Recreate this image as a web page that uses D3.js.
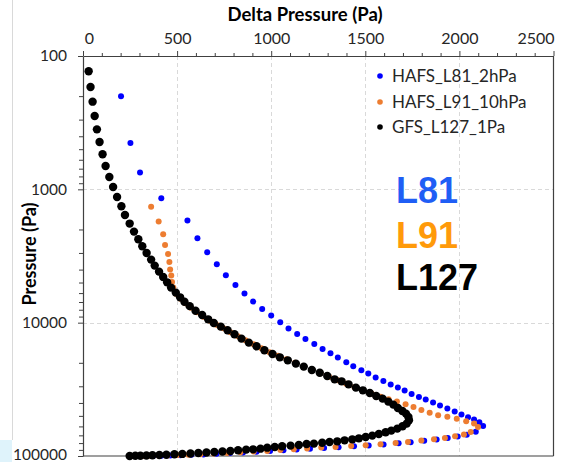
<!DOCTYPE html>
<html>
<head>
<meta charset="utf-8">
<script src="https://cdn.jsdelivr.net/npm/d3@7"></script>
<style>
  html, body { margin: 0; padding: 0; background: #fff; }
  svg { display: block; }
</style>
</head>
<body>
<div id="chart"></div>
<script>
// ---------------- DATA ----------------
const seriesNames = ["HAFS_L81_2hPa", "HAFS_L91_10hPa", "GFS_L127_1Pa"];
const xTicks = [0, 500, 1000, 1500, 2000, 2500];
const yTicks = [100, 1000, 10000, 100000];
const bigLabels = ["L81", "L91", "L127"];

// HAFS_L81_2hPa : [delta pressure (Pa), pressure (Pa)]
const l81 = [
  [202, 200], [252, 449], [303, 749], [416, 1167], [555, 1714], [608, 2328],
  [660, 2969], [711, 3650], [759, 4416], [810, 5219], [858, 6053], [904, 6950],
  [952, 7898], [1000, 8851], [1048, 9931], [1092, 11076], [1138, 12162],
  [1182, 13260], [1229, 14454], [1273, 15757], [1315, 16982], [1354, 18281],
  [1399, 19830], [1436, 21247], [1479, 22770], [1516, 24100], [1555, 25820],
  [1596, 27380], [1635, 29140], [1673, 30690], [1709, 32310], [1746, 34280],
  [1785, 36110], [1821, 37760], [1860, 39780], [1897, 41880], [1936, 44120],
  [1975, 46450], [2011, 48940], [2046, 51270], [2078, 53350], [2106, 55890],
  [2126, 59570],
  [2087, 65850], [2039, 69340], [1991, 71550], [1938, 73440], [1879, 75210],
  [1813, 76910], [1741, 78800], [1677, 80170], [1597, 81990], [1518, 83420],
  [1440, 84580], [1358, 85900], [1281, 86950], [1206, 88310], [1135, 89390],
  [1065, 90480], [994, 91900], [922, 93030], [850, 94140], [781, 95120],
  [709, 96290], [640, 97270], [576, 97950], [518, 98630], [464, 99150],
  [416, 99490], [374, 99660], [337, 99820], [305, 99900], [278, 100000]
];

// HAFS_L91_10hPa
const l91 = [
  [362, 1352], [402, 1746], [426, 2175], [436, 2616], [452, 3055], [459, 3508],
  [463, 3991], [469, 4436], [473, 4955], [480, 5458],
  [494, 6076], [518, 6622], [544, 7157], [573, 7737], [605, 8363], [640, 9036],
  [674, 9683], [709, 10375], [746, 11023], [783, 11812], [823, 12657],
  [863, 13562], [906, 14532], [948, 15572], [991, 16686], [1036, 17731],
  [1081, 18833], [1127, 20004], [1172, 21247], [1217, 22569], [1262, 23976],
  [1307, 25466], [1353, 27050], [1398, 28730], [1443, 30520], [1488, 32420],
  [1534, 34170], [1581, 35990], [1624, 37570],
  [1668, 39080], [1714, 40970], [1756, 42980], [1798, 45270], [1842, 47420],
  [1887, 49510], [1936, 50820], [1986, 52600], [2036, 54920], [2078, 57150],
  [2099, 60620],
  [2060, 66070], [2024, 69100], [1977, 71170], [1923, 73280], [1865, 74950],
  [1798, 76640], [1727, 78520], [1661, 79890], [1581, 81710], [1502, 83130],
  [1425, 84140], [1342, 85620], [1266, 86500], [1191, 88020], [1120, 89100],
  [1049, 90160], [979, 91750], [907, 92680], [837, 93820], [766, 94950],
  [695, 95940], [624, 97120], [560, 97790], [502, 98470], [448, 98980],
  [401, 99320], [358, 99660], [321, 99820], [289, 99950], [262, 100000]
];

// GFS_L127_1Pa (points below 100 Pa are off the chart)
const l127 = [
  [30, 130], [40, 171], [51, 220], [62, 282], [74, 355], [88, 442], [104, 546],
  [120, 668], [140, 808], [160, 961], [181, 1141], [204, 1340], [223, 1558],
  [248, 1807], [271, 2075], [294, 2371], [315, 2675], [338, 3002], [362, 3365],
  [381, 3733], [404, 4141], [426, 4545], [447, 4984], [468, 5458], [493, 5951],
  [516, 6457], [539, 6975], [567, 7516], [598, 8147], [633, 8760], [665, 9441],
  [695, 10058], [732, 10703], [768, 11402], [805, 12218], [842, 13167],
  [881, 14108], [922, 15031], [964, 16106], [1007, 17179], [1046, 18197],
  [1088, 19165], [1131, 20277], [1173, 21355], [1216, 22646], [1258, 23768],
  [1298, 25119], [1337, 26607], [1374, 27542], [1411, 29007], [1450, 30690],
  [1487, 32174], [1524, 33690], [1558, 35481], [1592, 37112], [1622, 39084],
  [1649, 41172], [1673, 43652], [1697, 45973], [1716, 48084], [1729, 50992],
  [1732, 54014], [1720, 57148], [1698, 59841], [1670, 62303], [1638, 64491],
  [1608, 66374], [1572, 68391], [1537, 70307], [1502, 72027], [1466, 73705],
  [1431, 74989], [1390, 76294], [1351, 77625], [1310, 78524], [1271, 79616],
  [1227, 80724], [1188, 81283], [1147, 82697], [1103, 83560], [1058, 84528],
  [1019, 85507], [979, 86596], [943, 88105], [904, 89125], [867, 89536],
  [824, 90573], [783, 91750], [741, 92540], [698, 93325], [656, 94140],
  [613, 94950], [571, 95720], [528, 96450], [486, 97120], [443, 97790],
  [406, 98290], [369, 98810], [337, 99150], [305, 99490], [278, 99650],
  [248, 100000]
];

const seriesColors = ["#0000ff", "#ed7d31", "#000000"];
const bigLabelColors = ["#1f5ef5", "#ff9a0a", "#000000"];

// ---------------- CHART ----------------
const W = 577, H = 462;
const svg = d3.select("#chart").append("svg").attr("width", W).attr("height", H);
const FONT = "Lato, 'Open Sans', sans-serif";

// slide-like background fragments
svg.append("rect").attr("x", 0).attr("y", 440).attr("width", 12).attr("height", 22).attr("fill", "#dff3fb");
svg.append("line").attr("x1", 12.5).attr("x2", 12.5).attr("y1", 0).attr("y2", 440).attr("stroke", "#d9d9d9");

const x = d3.scaleLinear().domain([0, 2500]).range([83, 553.5]);
const y = d3.scaleLog().domain([100, 100000]).range([56, 456]);

// gridlines
const grid = svg.append("g").attr("stroke", "#d9d9d9").attr("stroke-dasharray", "4,3").attr("stroke-width", 1);
xTicks.filter(v => v > 0 && v < 2500).forEach(v => {
  grid.append("line").attr("x1", Math.round(x(v)) + 0.5).attr("x2", Math.round(x(v)) + 0.5)
    .attr("y1", y(100)).attr("y2", y(100000));
});
yTicks.filter(v => v > 100 && v < 100000).forEach(v => {
  grid.append("line").attr("y1", Math.round(y(v)) + 0.5).attr("y2", Math.round(y(v)) + 0.5)
    .attr("x1", x(0)).attr("x2", x(2500));
});

// frame (right & bottom)
svg.append("line").attr("x1", x(2500)).attr("x2", x(2500)).attr("y1", y(100)).attr("y2", y(100000))
  .attr("stroke", "#404040").attr("stroke-width", 1.2);
svg.append("line").attr("x1", x(0)).attr("x2", x(2500)).attr("y1", y(100000)).attr("y2", y(100000))
  .attr("stroke", "#404040").attr("stroke-width", 1.2);

// top axis
const minorX = d3.range(0, 2501, 100).filter(v => v % 500 !== 0);
const topMinor = svg.append("g").attr("transform", `translate(0,${y(100)})`)
  .call(d3.axisTop(x).tickValues(minorX).tickSize(3).tickFormat(""));
topMinor.select(".domain").remove();
const topAxis = svg.append("g").attr("transform", `translate(0,${y(100)})`)
  .call(d3.axisTop(x).tickValues(xTicks).tickSizeOuter(0).tickSizeInner(5).tickPadding(7).tickFormat(d3.format("d")));
topAxis.selectAll("text").attr("font-family", FONT).attr("font-size", 16).attr("fill", "#262626")
  .attr("dx", d => d === 0 ? 6 : (d === 2500 ? -18 : 0));

// left axis
const minorY = [];
[100, 1000, 10000].forEach(d => { for (let k = 2; k <= 9; k++) minorY.push(d * k); });
const leftMinor = svg.append("g").attr("transform", `translate(${x(0)},0)`)
  .call(d3.axisLeft(y).tickValues(minorY).tickSize(4).tickFormat(""));
leftMinor.select(".domain").remove();
const leftAxis = svg.append("g").attr("transform", `translate(${x(0)},0)`)
  .call(d3.axisLeft(y).tickValues(yTicks).tickSizeOuter(0).tickSizeInner(5).tickPadding(11).tickFormat(d3.format("d")));
leftAxis.selectAll("text").attr("font-family", FONT).attr("font-size", 15.5).attr("fill", "#262626")
  .attr("y", d => d === 100000 ? -1.5 : 0);

[topMinor, topAxis, leftMinor, leftAxis].forEach(g => {
  g.selectAll("line").attr("stroke", "#404040");
  g.selectAll(".domain").attr("stroke", "#404040").attr("stroke-width", 1.2);
});

// axis titles
svg.append("text").attr("x", 305).attr("y", 21).attr("text-anchor", "middle")
  .attr("font-family", FONT).attr("font-weight", "bold").attr("font-size", 18.5).attr("fill", "#000")
  .text("Delta Pressure (Pa)");
svg.append("text").attr("transform", "translate(36,254) rotate(-90)").attr("text-anchor", "middle")
  .attr("font-family", FONT).attr("font-weight", "bold").attr("font-size", 18).attr("fill", "#000")
  .text("Pressure (Pa)");

// points
const allSeries = [l81, l91, l127];
const radii = [3, 3, 4.2];
allSeries.forEach((data, i) => {
  svg.append("g").selectAll("circle").data(data).join("circle")
    .attr("cx", d => x(d[0])).attr("cy", d => y(d[1])).attr("r", radii[i])
    .attr("fill", seriesColors[i]);
});

// legend
const legY = [76, 102, 127];
seriesNames.forEach((n, i) => {
  svg.append("circle").attr("cx", 380).attr("cy", legY[i]).attr("r", 2.8).attr("fill", seriesColors[i]);
  svg.append("text").attr("x", 392).attr("y", legY[i]).attr("dy", "0.35em")
    .attr("font-family", FONT).attr("font-size", 17).attr("fill", "#262626").text(n);
});

// big labels
const bigY = [203, 248, 290];
bigLabels.forEach((t, i) => {
  svg.append("text").attr("x", 396).attr("y", bigY[i])
    .attr("font-family", "'Liberation Sans', Arial, sans-serif").attr("font-weight", "bold")
    .attr("font-size", 36).attr("fill", bigLabelColors[i]).text(t);
});
</script>
</body>
</html>
